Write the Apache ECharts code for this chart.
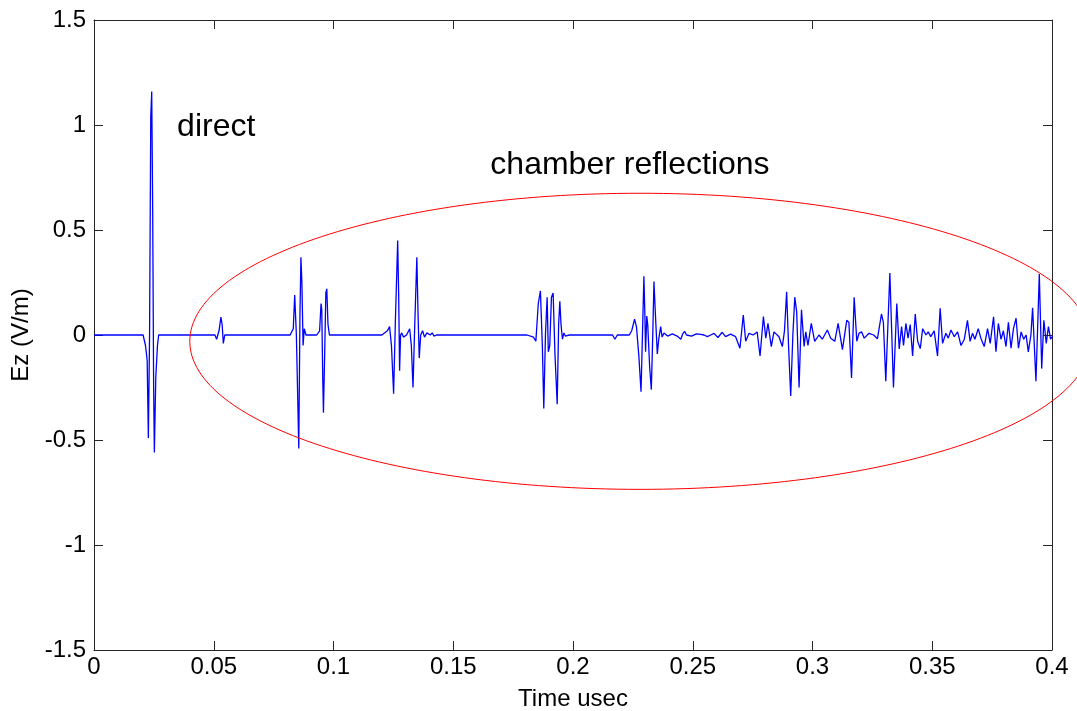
<!DOCTYPE html>
<html>
<head>
<meta charset="utf-8">
<script src="https://cdn.jsdelivr.net/npm/echarts@6/dist/echarts.min.js"></script>
<style>
html,body{margin:0;padding:0;background:#fff;}
#chart{width:1077px;height:711px;}
</style>
</head>
<body>
<div id="chart"></div>
<script>
// Time (usec) and Ez (V/m) samples
var timeUs = [
0,0.0205,0.0215,0.0222,0.0227,0.0232,0.0237,0.0241,0.0245,0.0249,0.0252,0.0258,0.0265,0.027,
0.0505,0.0512,0.0522,0.053,0.0535,0.054,0.0546,
0.0819,0.0832,0.0838,0.0845,0.0851,0.0855,0.086,0.0864,0.0868,0.0873,0.0878,0.0885,
0.093,0.0942,0.0948,0.0951,0.0955,0.0958,0.0963,0.0968,0.0972,0.0977,0.0983,
0.1202,0.1225,0.1234,0.1242,0.1251,0.1258,0.1268,0.1272,0.1276,0.128,0.1285,0.1292,0.1305,0.1318,
0.1325,0.1332,0.1338,0.1348,0.1353,0.1358,0.1364,0.1372,0.138,0.139,0.1404,0.1412,0.142,0.143,
0.1808,0.1835,0.1845,0.1855,0.1864,0.1872,0.1878,0.1885,0.1892,0.1897,0.1903,0.191,0.1917,0.1925,
0.1934,0.194,0.1945,0.195,0.1956,0.1962,0.1968,0.1985,
0.2165,0.2175,0.2185,0.2235,0.2245,0.2257,0.2265,0.2275,0.2284,0.229,0.2296,0.23,0.2303,0.2308,
0.2312,0.232,0.2327,0.2333,0.2338,0.2344,0.2352,0.2358,0.2366,0.2372,0.238,0.2395,0.2415,0.2435,
0.245,0.2458,0.2466,0.2474,0.2495,0.2515,0.2533,0.2547,0.2561,0.2575,0.2589,0.2605,0.2623,0.2637,
0.2658,0.2679,0.2697,0.2711,0.2721,0.2735,0.2752,0.2769,0.2781,0.2795,0.2805,0.2814,0.2828,0.2839,
0.286,0.2874,0.2883,0.2892,0.29,0.2909,0.2918,0.2926,0.2934,0.2944,0.2954,0.2965,0.2972,0.2981,
0.2995,0.3009,0.3027,0.3041,0.3062,0.3076,0.3093,0.3107,0.3125,0.3143,0.3152,0.3163,0.3174,0.3185,
0.3194,0.3205,0.3216,0.3236,0.3255,0.3271,0.3288,0.3296,0.3306,0.3323,0.3338,0.3352,0.3362,0.3372,
0.338,0.339,0.3399,0.3408,0.3418,0.3429,0.3439,0.345,0.346,0.3474,0.3483,0.3494,0.3508,0.3522,
0.3533,0.3543,0.3557,0.3567,0.3578,0.3592,0.3606,0.362,0.3634,0.3647,0.3658,0.3668,0.3678,0.3692,
0.3703,0.3717,0.3731,0.3742,0.3756,0.3766,0.3776,0.3787,0.3797,0.3808,0.3818,0.3829,0.3839,0.385,
0.386,0.3871,0.3882,0.3892,0.3901,0.3912,0.3919,0.3933,0.3947,0.3957,0.3966,0.3976,0.3985,0.3994,0.4003
];
var ezVm = [
0,0,-0.05,-0.12,-0.49,0.0,1.04,1.16,0.6,-0.25,-0.56,-0.2,-0.05,0,
0,-0.02,0.02,0.085,0.05,-0.04,0,
0,0.03,0.19,0.0,-0.32,-0.54,0.1,0.37,0.25,-0.05,0.03,0,
0,0.02,0.15,0.12,-0.2,-0.37,-0.1,0.2,0.22,0.05,0,
0,0.02,0.04,-0.05,-0.28,0.05,0.45,0.2,-0.17,0.0,0.01,-0.01,0.0,0.03,
-0.05,-0.25,0.0,0.37,0.1,-0.11,0.0,0.02,-0.01,0.01,0,0.01,-0.005,0,
0,-0.01,-0.03,0.15,0.21,-0.05,-0.35,0.0,0.18,-0.08,-0.05,0.18,0.2,-0.1,
-0.33,0.05,0.16,0.05,-0.02,0.01,-0.005,0,
0,-0.02,0,0,0.02,0.075,0.04,-0.1,-0.27,0.0,0.28,0.1,-0.08,0.09,
0.05,-0.15,-0.26,0.0,0.255,0.1,-0.09,-0.02,0.04,-0.01,0.01,-0.005,0.005,-0.005,
-0.02,0.005,0.017,0.0,-0.005,0.005,0.003,0.0,-0.008,0.0,0.008,-0.012,0.013,-0.008,
0.004,-0.008,-0.063,0.095,-0.03,0.008,0.0,0.014,-0.1,0.088,-0.015,0.055,-0.055,0.015,
-0.008,-0.055,0.02,0.206,-0.05,-0.29,0.0,0.18,0.11,-0.25,0.12,-0.055,0.015,-0.05,
0.055,-0.03,0.0,-0.02,0.024,-0.015,-0.03,0.055,-0.07,0.07,0.06,-0.205,0.18,-0.03,
0.008,0.015,-0.015,0.008,0.0,-0.018,0.1,0.06,-0.22,0.295,-0.25,0.15,-0.066,0.04,
-0.05,0.055,-0.015,0.05,-0.1,0.1,-0.03,-0.065,0.03,0.0,0.015,-0.008,0.02,-0.1,
0.127,-0.04,0.008,-0.015,0.024,-0.008,0.015,-0.05,-0.02,0.07,-0.03,0.008,-0.02,0.03,
-0.015,-0.055,0.03,-0.04,0.087,-0.08,0.055,-0.02,0.02,-0.055,0.06,-0.063,0.03,0.08,
-0.063,0.015,-0.02,0.0,-0.08,0.0,0.13,-0.22,0.29,-0.16,0.07,-0.04,0.04,-0.02,-0.005
];
var xTicks = [0,0.05,0.1,0.15,0.2,0.25,0.3,0.35,0.4];
var yTicks = [-1.5,-1,-0.5,0,0.5,1,1.5];
// Annotations (data coordinates)
var labelDirect = {text:'direct', t:0.0347, v:0.99};
var labelChamber = {text:'chamber reflections', t:0.1655, v:0.81};
var ellipseCenter = [0.228, -0.03];
var ellipseRadii = [0.188, 0.705];

var seriesData = timeUs.map(function(t,i){return [t, ezVm[i]];});
var chart = echarts.init(document.getElementById('chart'));
var FONT = 'Liberation Sans, Arial, Helvetica, sans-serif';
var axisColor = '#262626';
function frameAxis(pos){
  return {
    type:'value',position:pos,
    axisLine:{show:true,onZero:false,lineStyle:{color:axisColor,width:1}},
    axisTick:{show:true,inside:true,length:9,lineStyle:{color:axisColor}},
    splitLine:{show:false}
  };
}
var xBottom = frameAxis('bottom');
xBottom.min = xTicks[0]; xBottom.max = xTicks[xTicks.length-1]; xBottom.interval = 0.05;
xBottom.name = 'Time usec'; xBottom.nameLocation = 'middle'; xBottom.nameGap = 37;
xBottom.nameTextStyle = {fontFamily:FONT,fontSize:24,color:'#000'};
xBottom.axisLabel = {show:true,fontFamily:FONT,fontSize:24,color:'#000',margin:5};
var xTop = frameAxis('top');
xTop.min = xTicks[0]; xTop.max = xTicks[xTicks.length-1]; xTop.interval = 0.05;
xTop.axisLabel = {show:false};
var yLeft = frameAxis('left');
yLeft.min = yTicks[0]; yLeft.max = yTicks[yTicks.length-1]; yLeft.interval = 0.5;
yLeft.name = 'Ez (V/m)'; yLeft.nameLocation = 'middle'; yLeft.nameGap = 50;
yLeft.nameTextStyle = {fontFamily:FONT,fontSize:24,color:'#000'};
yLeft.axisLabel = {show:true,fontFamily:FONT,fontSize:24,color:'#000',margin:8};
var yRight = frameAxis('right');
yRight.min = yTicks[0]; yRight.max = yTicks[yTicks.length-1]; yRight.interval = 0.5;
yRight.axisLabel = {show:false};

chart.setOption({
  animation:false,
  backgroundColor:'#ffffff',
  grid:{left:94,right:25,top:20,bottom:61,containLabel:false,outerBoundsMode:'none'},
  xAxis:[xBottom, xTop],
  yAxis:[yLeft, yRight],
  series:[{
    type:'line',xAxisIndex:0,yAxisIndex:0,data:seriesData,
    showSymbol:false,symbol:'none',smooth:false,
    lineStyle:{color:'#0000ff',width:1.3},
    clip:true,z:3
  }]
});

function px(t,v){ return chart.convertToPixel({xAxisIndex:0,yAxisIndex:0},[t,v]); }
var c = px(ellipseCenter[0], ellipseCenter[1]);
var ex = px(ellipseCenter[0]+ellipseRadii[0], ellipseCenter[1]+ellipseRadii[1]);
var rx = ex[0]-c[0], ry = c[1]-ex[1];
var pD = px(labelDirect.t, labelDirect.v);
var pC = px(labelChamber.t, labelChamber.v);
chart.setOption({
  graphic:[
    {type:'ellipse',shape:{cx:c[0],cy:c[1],rx:rx,ry:ry},style:{fill:null,stroke:'#ff0000',lineWidth:1},z:10,silent:true},
    {type:'text',x:pD[0],y:pD[1],style:{text:labelDirect.text,fontFamily:FONT,fontSize:32,fill:'#000',textVerticalAlign:'middle',verticalAlign:'middle'},z:11},
    {type:'text',x:pC[0],y:pC[1],style:{text:labelChamber.text,fontFamily:FONT,fontSize:32,fill:'#000',textVerticalAlign:'middle',verticalAlign:'middle'},z:11}
  ]
});
</script>
</body>
</html>
